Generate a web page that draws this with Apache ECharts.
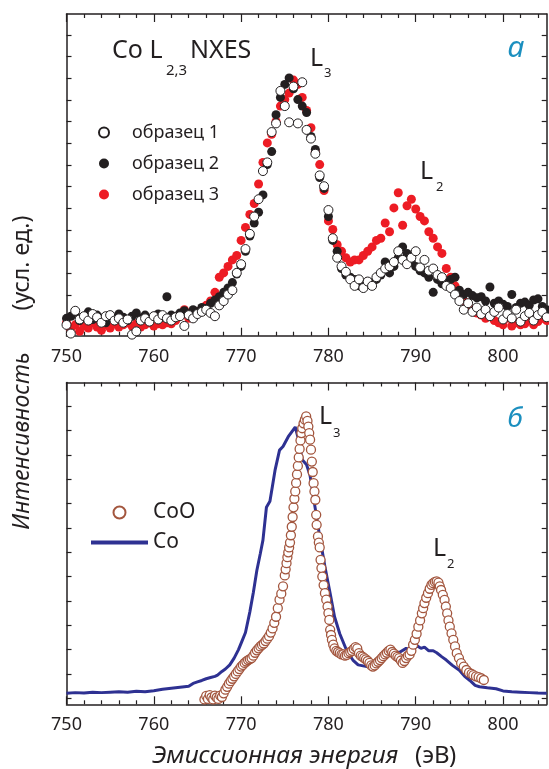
<!DOCTYPE html>
<html>
  <head>
    <meta charset="utf-8" />
    <script src="https://cdn.jsdelivr.net/npm/echarts@6.0.0/dist/echarts.min.js"></script>
    <style>
      body { margin: 0; background: #fff; }
    </style>
  </head>
  <body>
    <div id="main" style="width: 549px; height: 769px"></div>

    <script type="text/javascript">
      // panel (a): three samples, common energy grid (eV)
      var energyA = [
        750, 750.5, 751, 751.5, 752, 752.5, 753, 753.5, 754, 754.5,
        755, 755.5, 756, 756.5, 757, 757.5, 758, 758.5, 759, 759.5,
        760, 760.5, 761, 761.5, 762, 762.5, 763, 763.5, 764, 764.5,
        765, 765.5, 766, 766.5, 767, 767.5, 768, 768.5, 769, 769.5,
        770, 770.5, 771, 771.5, 772, 772.5, 773, 773.5, 774, 774.5,
        775, 775.5, 776, 776.5, 777, 777.5, 778, 778.5, 779, 779.5,
        780, 780.5, 781, 781.5, 782, 782.5, 783, 783.5, 784, 784.5,
        785, 785.5, 786, 786.5, 787, 787.5, 788, 788.5, 789, 789.5,
        790, 790.5, 791, 791.5, 792, 792.5, 793, 793.5, 794, 794.5,
        795, 795.5, 796, 796.5, 797, 797.5, 798, 798.5, 799, 799.5,
        800, 800.5, 801, 801.5, 802, 802.5, 803, 803.5, 804, 804.5,
        805
      ];
      var sample1 = [
        0.5, 0.1, 1.15, 0.75, 0.9, 0.7, 1.0, 0.85, 0.6, 0.9,
        0.95, 0.7, 0.8, 0.6, 0.75, 0.05, 0.2, 0.7, 0.8, 0.65,
        0.9, 0.75, 0.95, 0.8, 0.7, 0.85, 0.9, 0.45, 0.95, 0.8,
        1.0, 1.1, 1.2, 1.05, 0.9, 1.4, 1.6, 1.9, 2.1, 2.9,
        3.3, 4.0, 4.7, 5.5, 6.3, 7.6, 8.0, 9.4, 9.8, 11.3,
        10.6, 9.85, 11.5, 9.8, 11.7, 9.5, 9.1, 8.4, 7.4, 6.9,
        5.8, 4.5, 3.6, 3.2, 2.95, 2.6, 2.3, 2.6, 2.2, 2.5,
        2.3, 2.7, 2.9, 3.1, 3.2, 3.4, 3.9, 3.5, 3.3, 3.6,
        3.9, 3.15, 3.5, 3.0, 3.1, 2.8, 2.7, 2.3, 2.2, 1.9,
        1.6, 1.2, 1.5, 1.1, 1.3, 1.0, 1.2, 0.9, 1.1, 1.3,
        0.75, 1.0, 0.8, 1.2, 0.65, 0.9, 1.05, 0.7, 0.95, 1.1,
        0.85
      ];
      var sample2 = [
        0.8, 0.9, 1.0, 0.7, 0.85, 1.1, 0.75, 0.95, 0.8, 0.6,
        0.9, 0.75, 1.0, 0.85, 0.7, 0.9, 1.05, 0.8, 0.95, 0.75,
        0.9, 1.0, 0.85, 1.8, 0.95, 0.9, 1.05, 1.15, 1.0, 1.2,
        1.1, 1.3, 1.25, 1.5, 1.65, 1.8, 2.0, 2.2, 2.45, 2.85,
        3.2, 3.9, 4.6, 5.2, 5.7, 6.5, 7.9, 8.5, 10.2, 11.0,
        11.6, 11.9, 11.4, 10.9, 10.6, 10.3, 9.2, 8.6, 7.3, 6.8,
        5.5, 4.4, 3.9, 3.1, 2.8, 2.7, 2.6, 2.3, 2.4, 2.5,
        2.45, 2.6, 2.8, 3.4, 2.9, 3.2, 3.6, 4.1, 3.8, 3.4,
        3.2, 3.0, 2.9, 2.7, 2.0, 2.6, 2.4, 2.45, 2.6, 2.7,
        2.1, 1.9, 2.0, 1.85, 1.75, 1.8, 1.6, 2.25, 1.5, 1.6,
        1.45, 1.35, 1.9, 1.3, 1.5, 1.55, 1.4, 1.65, 1.7, 1.35,
        1.2
      ];
      var sample3 = [
        0.6, 0.3, 0.5, 0.2, 0.45, 0.35, 0.6, 0.4, 0.25, 0.5,
        0.35, 0.55, 0.4, 0.5, 0.6, 0.45, 0.55, 0.4, 0.5, 0.6,
        0.45, 0.55, 0.5, 0.6, 0.55, 0.7, 0.9, 1.2, 0.8, 0.95,
        1.1, 1.2, 1.4, 1.6, 2.0, 2.7, 2.9, 3.2, 3.5, 3.7,
        4.4, 5.0, 5.6, 6.1, 7.0, 8.0, 8.9, 9.3, 9.9, 10.6,
        10.9, 11.2, 11.8, 11.6, 11.0, 10.4, 9.6, 8.5, 7.9, 6.7,
        5.3, 4.9, 4.2, 3.9, 3.6, 3.4, 3.5, 3.5, 3.7, 3.9,
        4.1, 4.4, 4.5, 5.2, 4.8, 5.9, 6.6, 5.1, 6.0, 6.3,
        5.85, 5.5, 5.3, 4.8, 4.5, 4.1, 3.8, 3.1, 2.7, 2.3,
        1.9, 1.6, 1.4, 1.2, 1.05, 0.95, 0.8, 0.9, 0.7, 0.6,
        0.5, 0.8, 0.45, 0.6, 0.5, 0.55, 0.7, 0.5, 0.65, 0.8,
        0.7
      ];

      // panel (b): metallic Co (line)
      var coE = [
        750, 751, 752, 753, 754, 755, 756, 757, 758, 759, 760, 761, 762, 763, 764,
        764.5, 765, 765.5, 766, 766.5, 767, 767.3, 767.8, 768.2, 768.7, 769.2, 769.7,
        770.1, 770.5, 771, 771.4, 771.8, 772.2, 772.5, 772.9, 773.3, 773.6, 773.9,
        774.4, 774.8, 775.4, 775.8, 776.2, 776.5, 777, 777.5, 777.9, 778.4, 779,
        779.6, 780.2, 780.7, 781.3, 782.1, 782.8, 783.4, 784.4, 785, 785.9, 786.5,
        787.3, 788.2, 788.9, 789.6, 790.2, 790.6, 791, 791.5, 792, 792.4, 793, 793.5,
        794.2, 795, 795.6, 796.2, 796.8, 797.3, 798.2, 799.2, 800, 801, 802, 803, 804, 805
      ];
      var coI = [
        0.45, 0.48, 0.46, 0.5, 0.48, 0.5, 0.52, 0.5, 0.54, 0.52, 0.56, 0.62, 0.66, 0.7, 0.74,
        0.86, 0.92, 0.98, 1.05, 1.1, 1.15, 1.2, 1.35, 1.45, 1.62, 1.9, 2.25,
        2.6, 2.95, 3.8, 4.6, 5.5, 6.2, 6.75, 8.1, 8.35, 9.0, 9.65,
        10.45, 10.6, 11.0, 11.2, 11.4, 11.0, 10.05, 9.85, 9.4, 8.25, 6.9,
        5.65, 4.55, 3.6, 2.9, 2.2, 1.82, 1.62, 1.55, 1.6, 1.85, 1.95,
        2.1, 2.15, 2.3, 2.25, 2.4, 2.3, 2.35, 2.2, 2.2, 2.12, 1.95, 1.82,
        1.6, 1.4, 1.15, 0.98, 0.78, 0.72, 0.68, 0.64, 0.55, 0.52, 0.5, 0.48, 0.46, 0.45
      ];

      // panel (b): CoO (open circles)
      var cooE = [
        765.8, 766, 766.2, 766.4, 766.6, 766.8, 767, 767.2, 767.4, 767.6, 767.8,
        768, 768.2, 768.4, 768.6, 768.8, 769, 769.2, 769.4, 769.6, 769.8,
        770, 770.2, 770.4, 770.6, 770.8, 771, 771.2, 771.4, 771.6, 771.8,
        772, 772.2, 772.4, 772.6, 772.8, 773, 773.2, 773.4, 773.6, 773.8,
        774, 774.2, 774.4, 774.6, 774.8, 775, 775.1, 775.2, 775.3, 775.4,
        775.5, 775.6, 775.7, 775.8, 775.9, 776, 776.1, 776.2, 776.3, 776.4,
        776.5, 776.6, 776.7, 776.8, 776.9, 777, 777.15, 777.3, 777.45, 777.6,
        777.7, 777.8, 777.9, 778, 778.1, 778.2, 778.3, 778.4, 778.5, 778.6,
        778.65, 778.8, 778.9, 779, 779.1, 779.2, 779.3, 779.45, 779.6, 779.75,
        779.9, 780, 780.1, 780.2, 780.3, 780.4, 780.55, 780.7, 780.9, 781.1,
        781.3, 781.5, 781.7, 781.9, 782.1, 782.3, 782.5, 782.7, 782.9, 783.1,
        783.3, 783.5, 783.7, 783.9, 784.1, 784.3, 784.5, 784.7, 784.9, 785.1,
        785.3, 785.5, 785.7, 785.9, 786.1, 786.3, 786.5, 786.7, 786.9, 787.1,
        787.3, 787.5, 787.7, 787.9, 788.1, 788.3, 788.5, 788.7, 788.9, 789.1,
        789.3, 789.5, 789.7, 789.9, 790.1, 790.3, 790.5, 790.7, 790.85, 791,
        791.2, 791.4, 791.6, 791.8, 792, 792.2, 792.4, 792.6, 792.75, 792.9,
        793.1, 793.3, 793.45, 793.6, 793.75, 793.9, 794.1, 794.3, 794.5, 794.7,
        794.95, 795.2, 795.5, 795.8, 796.1, 796.4, 796.6, 796.9, 797.2, 797.5, 797.8
      ];
      var cooI = [
        0.2, 0.35, 0.22, 0.38, 0.28, 0.2, 0.36, 0.28, 0.22, 0.36, 0.3,
        0.45, 0.6, 0.72, 0.85, 0.95, 1.05, 1.15, 1.25, 1.35, 1.45,
        1.55, 1.62, 1.7, 1.76, 1.82, 1.86, 1.9, 2.0, 2.12, 2.22,
        2.3, 2.38, 2.44, 2.5, 2.6, 2.7, 2.8, 2.95, 3.12, 3.35,
        3.6, 3.95, 4.3, 4.55, 4.85, 5.3, 5.55, 5.8, 6.05, 6.25,
        6.45, 6.65, 6.95, 7.3, 7.7, 8.1, 8.45, 8.75, 9.1, 9.45,
        9.8, 10.15, 10.5, 10.85, 11.15, 11.35, 11.55, 11.7, 11.84, 11.65,
        11.42, 11.15, 10.88, 10.47, 9.98, 9.55, 9.09, 8.75, 8.41, 7.79,
        7.38, 6.9, 6.65, 6.45, 5.94, 5.6, 5.25, 4.9, 4.57, 4.3,
        4.02, 3.75, 3.47, 3.06, 2.85, 2.65, 2.45, 2.3, 2.2, 2.15,
        2.1, 2.05, 2.05, 2.0, 2.03, 2.1, 2.15, 2.2, 2.28, 2.35,
        2.3, 2.1, 2.0, 1.96, 1.9, 1.85, 1.78, 1.7, 1.6, 1.55,
        1.6, 1.68, 1.75, 1.82, 1.9, 1.98, 2.05, 2.12, 2.2, 2.25,
        2.15, 2.08, 2.0, 1.95, 1.9, 1.8, 1.7, 1.78, 1.9, 2.0,
        2.05, 2.2, 2.45, 2.65, 2.9, 3.19, 3.45, 3.74, 3.95, 4.16,
        4.38, 4.57, 4.75, 4.91, 4.98, 5.03, 5.05, 5.0, 4.85, 4.7,
        4.5, 4.29, 4.02, 3.74, 3.45, 3.19, 2.92, 2.65, 2.38, 2.1,
        1.9, 1.69, 1.55, 1.41, 1.3, 1.25, 1.2, 1.15, 1.12, 1.07, 1.0
      ];

      // ticks and labels
      var xMajor = [750, 760, 770, 780, 790, 800];
      var xMinor = [752, 754, 756, 758, 762, 764, 766, 768, 772, 774, 776, 778,
                    782, 784, 786, 788, 792, 794, 796, 798, 802, 804];
      var yTicksA = [0.88, 1.88, 2.88, 3.88, 4.88, 5.88, 6.88, 7.88, 8.88, 9.88, 10.88, 11.88, 12.88, 13.88];
      var yTicksB = [0.25, 1.25, 2.25, 3.25, 4.25, 5.25, 6.25, 7.25, 8.25, 9.25, 10.25, 11.25, 12.25];
      var sampleNames = ["образец 1", "образец 2", "образец 3"];

      var ink = "#231f20";
      var font = "'Noto Sans', 'DejaVu Sans', sans-serif";

      function pairs(xs, ys) {
        return xs.map(function (x, i) { return [x, ys[i]]; });
      }

      function xAxis(grid, pos, ticks, len, withLine, withLabels) {
        return {
          gridIndex: grid, type: "value", position: pos, min: 750, max: 805,
          splitLine: { show: false },
          axisLine: { show: withLine, onZero: false, lineStyle: { color: ink, width: 1.5 } },
          axisTick: { show: true, inside: true, length: len, customValues: ticks,
                      lineStyle: { color: ink, width: 1.2 } },
          axisLabel: { show: withLabels, customValues: xMajor, margin: 12,
                       color: ink, fontSize: 18, fontFamily: font }
        };
      }

      function yAxis(grid, pos, max, ticks) {
        return {
          gridIndex: grid, type: "value", position: pos, min: 0, max: max,
          splitLine: { show: false },
          axisLine: { show: true, onZero: false, lineStyle: { color: ink, width: 1.5 } },
          axisTick: { show: true, inside: true, length: 5, customValues: ticks,
                      lineStyle: { color: ink, width: 1.2 } },
          axisLabel: { show: false }
        };
      }

      function label(x, y, text, size, opts) {
        opts = opts || {};
        return {
          type: "text", x: x, y: y, rotation: opts.rotation || 0, z: 100,
          style: {
            text: text, fill: opts.color || ink, fontSize: size, fontFamily: font,
            fontStyle: opts.italic ? "italic" : "normal",
            align: opts.align || "left", verticalAlign: "middle",
            textAlign: opts.align || "left", textVerticalAlign: "middle"
          }
        };
      }

      var myChart = echarts.init(document.getElementById("main"));

      var option = {
        animation: false,
        backgroundColor: "#fff",
        grid: [
          { left: 66.5, right: 2.3, top: 14, height: 321.7, outerBoundsMode: "none" },
          { left: 66.5, right: 2.3, top: 382.5, height: 321.8, outerBoundsMode: "none" }
        ],
        xAxis: [
          xAxis(0, "bottom", xMajor, 8, true, true),
          xAxis(0, "bottom", xMinor, 4, false, false),
          xAxis(0, "top", xMajor, 8, true, false),
          xAxis(0, "top", xMinor, 4, false, false),
          xAxis(1, "bottom", xMajor, 8, true, true),
          xAxis(1, "bottom", xMinor, 4, false, false),
          xAxis(1, "top", xMajor, 8, true, false),
          xAxis(1, "top", xMinor, 4, false, false)
        ],
        yAxis: [
          yAxis(0, "left", 14.85, yTicksA),
          yAxis(0, "right", 14.85, yTicksA),
          yAxis(1, "left", 13.23, yTicksB),
          yAxis(1, "right", 13.23, yTicksB)
        ],
        legend: [
          {
            data: sampleNames, orient: "vertical", left: 93, top: 118.5,
            itemWidth: 46, itemHeight: 10, itemGap: 13,
            textStyle: { color: ink, fontSize: 18, fontFamily: font }
          },
          {
            data: ["CoO", { name: "Co", itemStyle: { opacity: 0 } }],
            orient: "vertical", left: 84, top: 497,
            itemWidth: 57, itemHeight: 12, itemGap: 9,
            lineStyle: { width: 4 },
            textStyle: { color: ink, fontSize: 21, fontFamily: font }
          }
        ],
        graphic: [
          label(112, 51, "Co L", 25),
          label(166, 71, "2,3", 15),
          label(190, 51, "NXES", 25),
          label(310, 59, "L", 25),
          label(324, 73, "3", 13),
          label(420, 172, "L", 25),
          label(436, 187, "2", 13),
          label(516, 48, "а", 30, { italic: true, color: "#1b8fbf", align: "center" }),
          label(319, 417, "L", 25),
          label(333, 433, "3", 13),
          label(433, 549, "L", 25),
          label(447, 564, "2", 13),
          label(515, 419, "б", 28, { italic: true, color: "#1b8fbf", align: "center" }),
          label(22, 441, "Интенсивность", 23, { italic: true, align: "center", rotation: Math.PI / 2 }),
          label(22, 263, "(усл. ед.)", 23, { align: "center", rotation: Math.PI / 2 }),
          label(152, 756, "Эмиссионная энергия", 24.5, { italic: true }),
          label(415, 756, "(эВ)", 24)
        ],
        series: [
          {
            name: sampleNames[2], type: "scatter", xAxisIndex: 0, yAxisIndex: 0,
            data: pairs(energyA, sample3), symbol: "circle", symbolSize: 9, z: 2,
            itemStyle: { color: "#ed1c24", opacity: 1 }
          },
          {
            name: sampleNames[1], type: "scatter", xAxisIndex: 0, yAxisIndex: 0,
            data: pairs(energyA, sample2), symbol: "circle", symbolSize: 9, z: 3,
            itemStyle: { color: "#231f20", opacity: 1 }
          },
          {
            name: sampleNames[0], type: "scatter", xAxisIndex: 0, yAxisIndex: 0,
            data: pairs(energyA, sample1), symbol: "circle", symbolSize: 9, z: 4,
            itemStyle: { color: "#ffffff", borderColor: "#231f20", borderWidth: 1, opacity: 1 }
          },
          {
            name: "Co", type: "line", xAxisIndex: 4, yAxisIndex: 2,
            data: pairs(coE, coI), symbol: "none", z: 2,
            lineStyle: { color: "#2e3192", width: 3 },
            itemStyle: { color: "#2e3192" }
          },
          {
            name: "CoO", type: "scatter", xAxisIndex: 4, yAxisIndex: 2,
            data: pairs(cooE, cooI), symbol: "circle", symbolSize: 9, z: 3,
            itemStyle: { color: "#ffffff", borderColor: "#a3563e", borderWidth: 1.3, opacity: 1 }
          }
        ]
      };

      myChart.setOption(option);
    </script>
  </body>
</html>
